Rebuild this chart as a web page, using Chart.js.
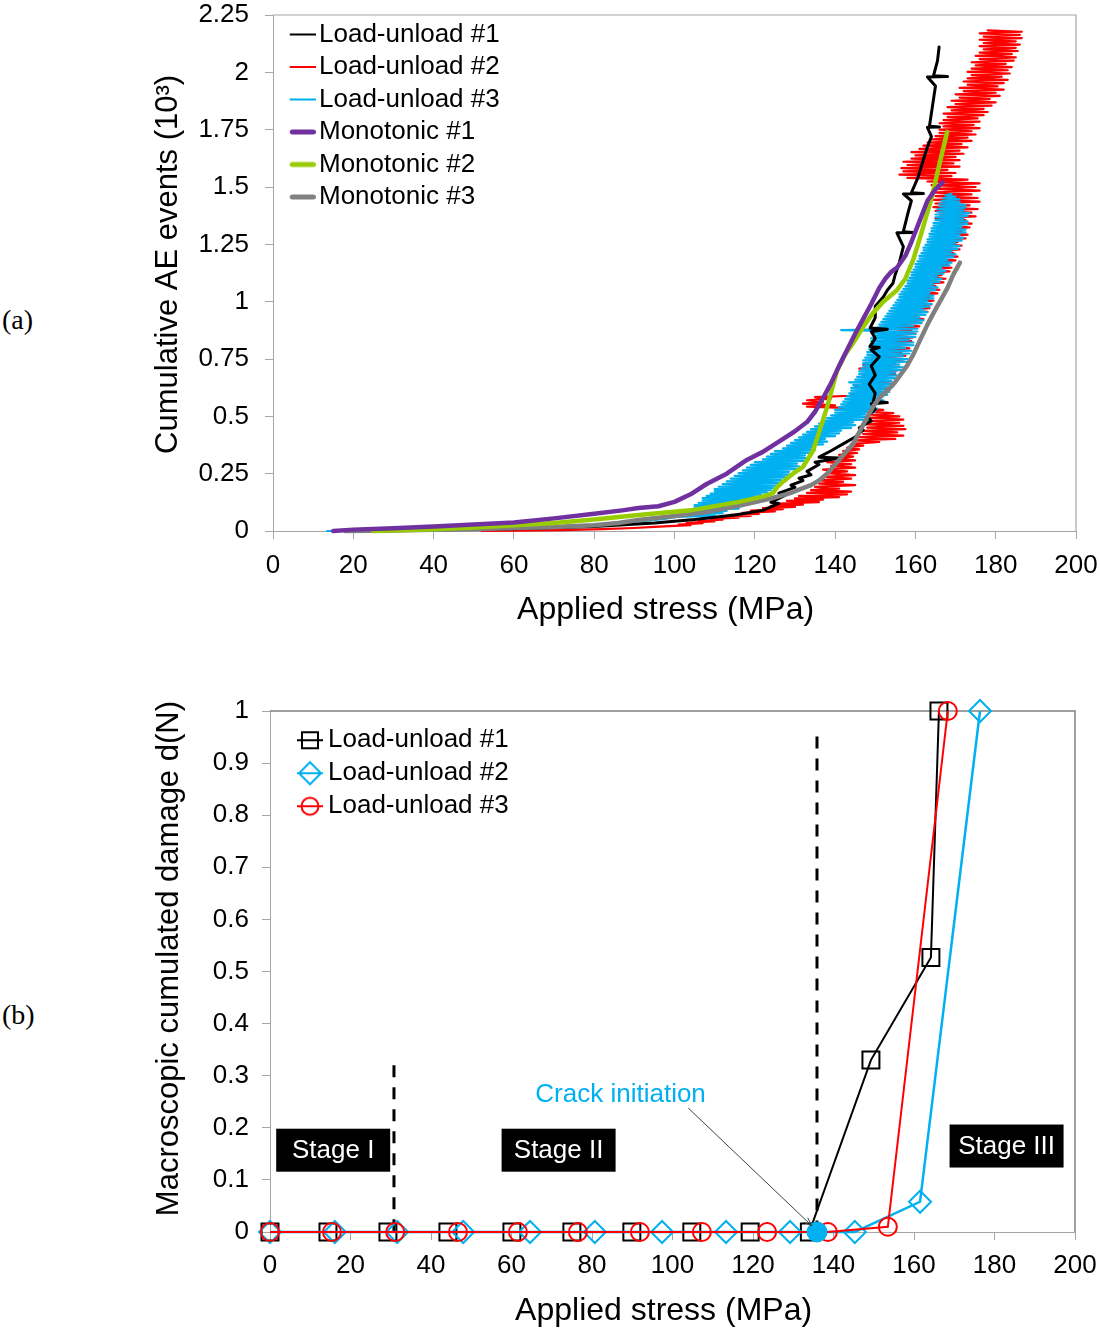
<!DOCTYPE html>
<html>
<head>
<meta charset="utf-8">
<script src="https://cdn.jsdelivr.net/npm/chart.js@4.4.1/dist/chart.umd.min.js"></script>
<style>
  html, body { margin: 0; padding: 0; background: #fff; }
  body { width: 1100px; height: 1331px; position: relative; overflow: hidden; }
  .painel { position: absolute; left: 0; }
  .letra { position: absolute; left: 2px; font: 28px/28px "Liberation Serif", "Times New Roman", serif; color: #000; }
</style>
</head>
<body>
<div class="letra" style="top:306px">(a)</div>
<div class="letra" style="top:1001px">(b)</div>
<canvas id="graficoAE" class="painel" style="top:0" width="1100" height="640"></canvas>
<canvas id="graficoDano" class="painel" style="top:650px" width="1100" height="681"></canvas>
<script>
Chart.defaults.font.family = '"Liberation Sans", Arial, sans-serif';
Chart.defaults.color = '#000';

// tick values
const stressTicks = [0, 20, 40, 60, 80, 100, 120, 140, 160, 180, 200];
const eventTicks = [0, 0.25, 0.5, 0.75, 1, 1.25, 1.5, 1.75, 2, 2.25];
const damageTicks = [0, 0.1, 0.2, 0.3, 0.4, 0.5, 0.6, 0.7, 0.8, 0.9, 1];

// (a) series names, points are [stress MPa, AE events x10^3]
const aeNames = ['Load-unload #1', 'Load-unload #2', 'Load-unload #3', 'Monotonic #1', 'Monotonic #2', 'Monotonic #3'];

const loadUnload1 = [
  [20,0],[40,0.004],[60,0.01],[80,0.02],[95,0.035],[105,0.05],[115,0.07],[122,0.09],[126,0.12],[124,0.125],
  [128,0.16],[126,0.165],[130,0.19],[129,0.2],[132,0.22],[131,0.23],[134,0.245],[133,0.26],[136,0.29],[135,0.3],
  [141,0.318],[136,0.322],[139,0.35],[142,0.38],[145,0.41],[147,0.44],[146,0.45],[149,0.48],[148,0.5],[150,0.53],
  [149,0.555],[153,0.56],[149.5,0.565],[150,0.6],[148.5,0.64],[150,0.68],[149,0.72],[151,0.76],[149,0.79],[151,0.8],
  [148.7,0.805],[150,0.84],[149,0.87],[153,0.88],[148.7,0.885],[150,0.93],[150,0.98],[152,1.02],[153,1.05],[154.4,1.08],
  [155,1.12],[156,1.17],[157,1.24],[155.4,1.3],[159.4,1.302],[157,1.305],[158.2,1.39],[159,1.44],[157,1.47],[162,1.472],
  [159,1.475],[160.6,1.54],[162,1.62],[162.9,1.67],[164,1.72],[163,1.76],[166,1.762],[163.5,1.765],[164.4,1.87],[165,1.94],
  [163,1.98],[168,1.982],[164.5,1.985],[165.5,2.05],[165.9,2.11]
];

const loadUnload2 = [
  [52,0],[62,0.002],[72,0.004],[82,0.008],[90,0.013],[95,0.018],[100,0.022],
  [104,0.026],[101,0.028],[107,0.034],[103,0.036],[110,0.042],[106,0.045],[112,0.05],[109,0.053],[116,0.058],[111,0.061],
  [119,0.066],[114,0.07],[121,0.075],[117,0.079],[125,0.085],[119,0.089],[127,0.095],[122,0.1],[130,0.105],[124,0.11],
  [132,0.115],[126,0.12],[136,0.126],[128,0.131],[137,0.137],[130,0.142],[141,0.148],[131,0.153],[143,0.16],[133,0.166],
  [144,0.172],[134,0.178],[141,0.185],[135,0.192],[145,0.2],[136,0.207],[142,0.214],[136,0.221],[144,0.228],[137,0.236],
  [145,0.244],[138,0.252],[143,0.26],[137,0.268],[145,0.276],[139,0.284],[144,0.292],[138,0.3],[145,0.308],[140,0.316],
  [144.5,0.324],[141,0.332],[145.5,0.34],[142,0.348],[146,0.356],[143,0.364],[147,0.372],[144,0.38],
  [151,0.388],[145,0.395],[155,0.402],[146,0.409],[157,0.416],[147,0.423],[155.5,0.43],[147,0.437],[157.5,0.444],[148,0.451],
  [157,0.458],[148,0.465],[156,0.472],[149,0.479],[157,0.486],[148,0.493],[156,0.5],[149,0.507],[154.5,0.514],[147,0.521],
  [152,0.528],[146,0.535],[133,0.542],[140,0.548],[132,0.555],[137,0.562],[133,0.57],[139,0.577],[135,0.584],
  [147,0.592],[144,0.598],[152,0.605],[146,0.612],[153,0.62],[145,0.628],[151.5,0.636],[147,0.644],[154,0.652],[148,0.66],
  [153,0.668],[147,0.676],[155,0.684],[149,0.692],[155.5,0.7],[146,0.708],[156,0.716],[147,0.724],[155,0.732],[150,0.74],
  [157,0.748],[151,0.756],[157.5,0.764],[152,0.772],[156.5,0.78],[151,0.788],[158.5,0.796],[153,0.804],[158,0.812],[152,0.82],
  [159,0.828],[154,0.836],[159.5,0.844],[153,0.852],[160,0.86],[155,0.868],[159,0.876],[154,0.884],[161,0.892],[155,0.9],
  [161.5,0.908],[156,0.916],[162,0.924],[157,0.932],[161,0.94],[156,0.948],[163,0.956],[158,0.964],[163.5,0.972],[157,0.98],
  [164,0.988],[158,0.996],[164.5,1.004],[159,1.012],[163.5,1.02],[159.5,1.028],[165.5,1.036],[160,1.044],[166,1.052],[160.5,1.06],
  [165,1.068],[161,1.076],[167,1.084],[161,1.092],[167.5,1.1],[162,1.108],[166.5,1.116],[162,1.124],[168.5,1.132],[163,1.14],
  [169,1.148],[163,1.156],[168,1.164],[163.5,1.172],[170,1.18],[164,1.188],[170.5,1.196],[164,1.204],[169.5,1.212],[164.5,1.22],
  [171,1.228],[165,1.236],[171.5,1.244],[165,1.252],[170.5,1.26],[165,1.268],[172.5,1.276],[166,1.284],[173,1.292],[165.5,1.3],
  [171.5,1.308],[166,1.316],[173.5,1.324],[166,1.332],[174,1.34],[166.5,1.348],[172.5,1.356],[165,1.364],[175,1.372],[166,1.38],
  [174,1.388],[165,1.396],[175.5,1.404],[164.5,1.412],[173.5,1.42],[165,1.428],[176,1.436],[164.5,1.444],[175.5,1.452],[165,1.46],
  [174,1.468],[164,1.476],[176,1.484],[165,1.492],[175,1.5],[164,1.508],[176,1.516],[163,1.524],[173,1.532],
  [158,1.54],[169,1.547],[156,1.554],[170,1.561],[157,1.568],[168,1.575],[156.5,1.582],[171,1.589],[158,1.596],[169.5,1.603],
  [157,1.61],[171,1.617],[159,1.624],[170,1.631],[160,1.638],[172,1.645],[159,1.652],[171,1.659],[161,1.666],[173,1.673],
  [162,1.68],[171.5,1.687],[163,1.694],[174,1.701],[164,1.708],[173,1.715],[165,1.722],[175,1.729],[166,1.736],[174,1.743],
  [166,1.75],[176,1.757],[167,1.764],[174.5,1.771],[166,1.778],[176,1.785],[167,1.792],[175.5,1.799],[168,1.806],[177,1.813],
  [167,1.82],[178,1.827],[169,1.834],[177,1.841],[168,1.848],[179,1.855],[170,1.862],[180,1.869],[169,1.876],[178.5,1.883],
  [171,1.89],[181,1.897],[170,1.904],[180,1.911],[172,1.918],[182,1.925],[171,1.932],[180.5,1.939],[173,1.946],[182,1.953],
  [172,1.96],[183,1.967],[173,1.974],[181.5,1.981],[174,1.988],[183.5,1.995],[173,2.002],[183,2.009],[174,2.016],[184,2.023],
  [175,2.03],[182.5,2.037],[174,2.044],[184.5,2.051],[176,2.058],[185,2.065],[175,2.072],[184,2.079],[176,2.086],[185.5,2.093],
  [177,2.1],[185,2.107],[176,2.114],[186,2.121],[177,2.128],[185,2.135],[176,2.142],[186.5,2.149],[177,2.156],[186,2.163],
  [176,2.17],[186.5,2.177],[178,2.183]
];

const loadUnload3 = [
  [13.5,0],[20,0.002],[30,0.004],[40,0.007],[50,0.01],[60,0.014],[70,0.02],[80,0.028],[90,0.04],[97,0.052],[101,0.062],
  [110,0.068],[103,0.072],[112,0.078],[104,0.083],[113,0.088],[104,0.093],[116,0.098],[105,0.103],[115,0.108],[105,0.113],
  [118,0.118],[106,0.123],[117,0.128],[107,0.133],[120,0.138],[107,0.143],[121,0.148],[108,0.153],[121.5,0.158],[109,0.163],
  [123,0.168],[110,0.173],[124,0.178],[110,0.183],[124.5,0.188],[111,0.193],[126,0.198],[112,0.204],[127,0.21],[113,0.216],
  [126.5,0.222],[114,0.228],[128.5,0.234],[115,0.24],[129,0.246],[116,0.252],[128.5,0.258],[117,0.264],[130.5,0.27],[118,0.276],
  [131,0.282],[119,0.288],[130.5,0.294],[120,0.3],[132.5,0.306],[122,0.312],[133,0.318],[123,0.324],[132.5,0.33],[124,0.336],
  [134.5,0.342],[125,0.348],[135,0.354],[127,0.36],[134.5,0.366],[128,0.372],[137,0.378],[129,0.384],[138,0.39],[130,0.396],
  [137.5,0.402],[131,0.408],[140,0.414],[132,0.42],[141,0.426],[133,0.432],[141.5,0.438],[134,0.444],[144,0.45],[135,0.456],
  [145,0.462],[136,0.468],[144.5,0.474],[137,0.48],[147,0.486],[138,0.492],[148,0.498],[139,0.504],[147.5,0.51],[140,0.516],
  [150,0.522],[140,0.528],[150.5,0.534],[141,0.54],[149.5,0.546],[141.5,0.552],[151.5,0.558],[142,0.564],[152,0.57],[142.5,0.576],
  [151,0.582],[143,0.588],[153,0.594],[143.5,0.6],[153.5,0.606],[144,0.612],[152.5,0.618],[144,0.624],[154.5,0.63],[144.5,0.636],
  [155,0.642],[143.5,0.648],[154,0.654],[145,0.66],[156,0.666],[145.5,0.672],[156,0.678],[146,0.684],[155,0.69],[146,0.696],
  [157,0.702],[146.5,0.708],[157,0.714],[147,0.72],[156,0.726],[147,0.732],[158,0.738],[147,0.744],[158,0.75],[147.5,0.756],
  [157,0.762],[148,0.768],[158.5,0.774],[148,0.78],[159,0.786],[148.5,0.792],[157.5,0.798],[148.5,0.804],[159.5,0.81],[149,0.816],
  [159.5,0.822],[149,0.828],[158.5,0.834],[149,0.84],[160,0.846],[149.5,0.852],[160,0.858],[149.5,0.864],[160.5,0.87],[141.5,0.876],
  [160.5,0.882],[150.5,0.888],[159.5,0.894],[151,0.9],[161.5,0.906],[151.5,0.912],[162,0.918],[152,0.924],[161,0.93],[152.5,0.936],
  [162.5,0.942],[153,0.948],[163,0.954],[153.5,0.96],[162,0.966],[154,0.972],[163.5,0.978],[154.5,0.984],[164,0.99],[155,0.996],
  [163,1.002],[155.5,1.008],[164.5,1.014],[156,1.02],[164.5,1.026],[156,1.032],[163.5,1.038],[156.5,1.044],[165,1.05],[157,1.056],
  [165.5,1.062],[157.5,1.068],[164.5,1.074],[158,1.08],[166,1.086],[158,1.092],[166.5,1.098],[158.5,1.104],[165.5,1.11],[159,1.116],
  [167,1.122],[159,1.128],[167.5,1.134],[159.5,1.14],[166.5,1.146],[160,1.152],[168.5,1.158],[160,1.164],[169,1.17],[160.5,1.176],
  [168,1.182],[161,1.188],[169.5,1.194],[161,1.2],[170,1.206],[161.5,1.212],[169,1.218],[162,1.224],[170.5,1.23],[162,1.236],
  [171,1.242],[162.5,1.248],[170,1.254],[163,1.26],[171.5,1.266],[163,1.272],[172,1.278],[163.5,1.284],[171,1.29],[163.5,1.296],
  [172.5,1.302],[164,1.308],[172.5,1.314],[164,1.32],[171.5,1.326],[164.5,1.332],[173,1.338],[164.5,1.344],[173,1.35],[165,1.356],
  [172,1.362],[165,1.368],[173,1.374],[165,1.38],[173.5,1.386],[165.5,1.392],[172,1.398],[165.5,1.404],[172.5,1.41],[166,1.416],
  [172.5,1.422],[166,1.428],[171,1.434],[166.5,1.44],[171,1.446],[167,1.452],[170,1.458],[167.5,1.464],[169,1.47]
];

const monotonic1 = [
  [15,0],[20,0.006],[30,0.012],[40,0.02],[50,0.028],[60,0.037],[70,0.055],[80,0.075],[87,0.09],[91,0.1],[96,0.108],
  [100,0.127],[104,0.16],[108,0.205],[113,0.25],[118,0.31],[122,0.345],[126,0.39],[130,0.435],[133,0.475],[135,0.52],
  [137,0.58],[139,0.645],[141,0.72],[143,0.79],[145,0.86],[147,0.925],[149,0.99],[151,1.06],[152.5,1.1],[154,1.13],
  [155.5,1.15],[157.5,1.2],[159,1.26],[161,1.35],[163,1.44],[165,1.49],[166.8,1.52]
];

const monotonic2 = [
  [25,0],[40,0.008],[50,0.015],[60,0.025],[70,0.035],[80,0.05],[91,0.07],[104,0.09],[116,0.127],[122,0.15],[124.5,0.165],
  [125.5,0.19],[127,0.215],[129.5,0.25],[132,0.28],[134.5,0.35],[136,0.43],[138,0.54],[140.5,0.7],[142.5,0.77],[144.5,0.82],
  [147,0.89],[149.4,0.95],[152,1.0],[155.4,1.05],[157.5,1.1],[159.4,1.18],[161,1.27],[162.5,1.36],[164,1.45],[166,1.6],[167.9,1.74]
];

const monotonic3 = [
  [18,0],[30,0.002],[40,0.005],[50,0.008],[60,0.013],[70,0.017],[80,0.025],[86,0.035],[91,0.048],[100,0.065],[108,0.083],
  [116,0.11],[124.5,0.144],[128.8,0.165],[131,0.18],[134,0.2],[136,0.22],[138,0.25],[140,0.29],[142,0.33],[144.5,0.38],
  [146,0.43],[147.5,0.48],[149.4,0.54],[151,0.58],[152.9,0.61],[155,0.65],[157.9,0.72],[159.5,0.77],[161.1,0.83],[163,0.9],
  [164.5,0.95],[166.1,1.0],[168,1.06],[169.5,1.12],[171.1,1.17]
];

// (b) macroscopic damage vs stress
const damageNames = ['Load-unload #1', 'Load-unload #2', 'Load-unload #3'];
const lu1Stress = [0, 14.4, 29.3, 44.2, 60.1, 75, 89.9, 104.8, 119.3, 134, 149.3, 164.2, 166.2];
const lu1Damage = [0, 0, 0, 0, 0, 0, 0, 0, 0, 0, 0.33, 0.527, 1];
const lu2Stress = [0, 16.1, 31.6, 48, 64.6, 80.7, 97.4, 113.3, 129.2, 145.3, 161.5, 176.4];
const lu2Damage = [0, 0, 0, 0, 0, 0, 0, 0, 0, 0, 0.058, 1];
const lu3Stress = [0, 15.4, 31.1, 46.7, 61.6, 76.5, 91.9, 107.3, 123.5, 138.6, 153.5, 168.4];
const lu3Damage = [0, 0, 0, 0, 0, 0, 0, 0, 0, 0, 0.01, 1];

const stageBoundaryStress = [30.8, 135.9];
const stageBoundaryTop = [0.32, 0.951];
const crackStress = [135.9];
const crackDamage = [0];
const crackArrowStress = [103.9, 134.6];
const crackArrowDamage = [0.238, 0.012];
const crackLabel = 'Crack initiation';
const crackLabelAt = [87.1, 0.263];
const stageNames = ['Stage I', 'Stage II', 'Stage III'];
const stageStress = [15.7, 71.7, 183.0];
const stageDamage = [0.157, 0.157, 0.165];

const pontos = lista => lista.map(([x, y]) => ({x, y}));
const juntar = (xs, ys) => xs.map((x, i) => ({x, y: ys[i]}));

const tickFonte = {size: 26};
const cinza = '#a6a6a6';

const moldura = {
  id: 'moldura',
  beforeDatasetsDraw(chart, args, opts) {
    const {ctx, chartArea: a} = chart;
    ctx.save();
    ctx.strokeStyle = opts.color;
    ctx.lineWidth = opts.width;
    ctx.beginPath();
    ctx.moveTo(a.left, a.top);
    ctx.lineTo(a.right, a.top);
    ctx.lineTo(a.right, a.bottom);
    ctx.stroke();
    ctx.restore();
  }
};

function iconeLinha(cor, largura) {
  const c = document.createElement('canvas');
  c.width = 46; c.height = 12;
  const g = c.getContext('2d');
  g.strokeStyle = cor;
  g.lineWidth = largura;
  g.lineCap = largura > 3 ? 'round' : 'butt';
  const m = largura > 3 ? largura / 2 : 0;
  g.beginPath();
  g.moveTo(20 + m, 6);
  g.lineTo(46 - m, 6);
  g.stroke();
  return c;
}

function iconeMarcador(cor, forma) {
  const c = document.createElement('canvas');
  c.width = 54; c.height = 26;
  const g = c.getContext('2d');
  g.strokeStyle = cor;
  g.lineWidth = 2;
  g.beginPath();
  g.moveTo(28, 13);
  g.lineTo(54, 13);
  g.stroke();
  g.beginPath();
  if (forma === 'rect') {
    g.rect(33, 5, 16, 16);
  } else if (forma === 'rectRot') {
    g.moveTo(41, 2); g.lineTo(52, 13); g.lineTo(41, 24); g.lineTo(30, 13); g.closePath();
  } else {
    g.arc(41, 13, 8.5, 0, Math.PI * 2);
  }
  g.stroke();
  return c;
}

function eixoX(altura, padTick, padBaixo) {
  return {
    type: 'linear', min: 0, max: 200,
    afterBuildTicks: s => { s.ticks = stressTicks.map(v => ({value: v})); },
    afterFit: s => { s.height = altura; s.paddingLeft = 0; s.paddingRight = 0; },
    ticks: {font: tickFonte, color: '#000', padding: padTick, maxRotation: 0, autoSkip: false, callback: v => String(v)},
    grid: {drawOnChartArea: false, tickLength: 8, color: cinza, tickColor: cinza},
    border: {color: cinza, width: 1},
    title: {display: true, text: 'Applied stress (MPa)  ', font: {size: 32}, color: '#000', padding: {top: 0, bottom: padBaixo}}
  };
}

function eixoY(valores, largura, padTick, titulo, padTitulo) {
  return {
    type: 'linear', min: valores[0], max: valores[valores.length - 1],
    afterBuildTicks: s => { s.ticks = valores.map(v => ({value: v})); },
    afterFit: s => { s.width = largura; s.paddingTop = 0; s.paddingBottom = 0; },
    ticks: {font: tickFonte, color: '#000', padding: padTick, autoSkip: false, callback: v => String(v)},
    grid: {drawOnChartArea: false, tickLength: 8, color: cinza, tickColor: cinza},
    border: {color: cinza, width: 1},
    title: {display: true, text: titulo, font: {size: 31}, color: '#000', padding: {top: padTitulo, bottom: 0}}
  };
}

// ---------- (a) ----------
const coresAE = ['#000000', '#ff0000', '#00b0f0', '#7030a0', '#99cc00', '#808080'];
const dadosAE = [loadUnload1, loadUnload2, loadUnload3, monotonic1, monotonic2, monotonic3];
const largurasAE = [3, 2.2, 2.2, 4.5, 4.5, 4.5];
const ordemAE = [4, 6, 5, 1, 2, 3];

const graficoAE = new Chart(document.getElementById('graficoAE'), {
  type: 'scatter',
  data: {
    datasets: dadosAE.map((d, i) => ({
      label: aeNames[i],
      data: pontos(d),
      showLine: true,
      borderColor: coresAE[i],
      backgroundColor: coresAE[i],
      borderWidth: largurasAE[i],
      borderCapStyle: 'round',
      borderJoinStyle: 'round',
      pointRadius: 0,
      tension: 0,
      clip: false,
      order: ordemAE[i]
    }))
  },
  options: {
    responsive: false,
    devicePixelRatio: 1,
    animation: false,
    events: [],
    layout: {padding: {left: 140, right: 24, top: 15, bottom: 0}},
    scales: {
      x: eixoX(109, 11, 10.4),
      y: eixoY(eventTicks, 133, 16, '  Cumulative AE events (10³)', 10)
    },
    plugins: {
      tooltip: {enabled: false},
      moldura: {color: cinza, width: 1.2},
      legend: {
        position: 'chartArea',
        align: 'start',
        title: {display: true, text: ' ', font: {size: 1}, padding: {top: 7, bottom: 6.8}},
        labels: {
          font: {size: 26},
          color: '#000',
          padding: 6.5,
          usePointStyle: true,
          pointStyleWidth: 26.5,
          boxHeight: 26,
          generateLabels: chart => chart.data.datasets.map((ds, i) => ({
            text: ds.label,
            datasetIndex: i,
            pointStyle: iconeLinha(coresAE[i], i < 3 ? 2 : 5),
            fillStyle: 'rgba(0,0,0,0)',
            strokeStyle: 'rgba(0,0,0,0)',
            lineWidth: 0,
            hidden: false,
            fontColor: '#000'
          })),
          sort: (a, b) => a.datasetIndex - b.datasetIndex
        }
      }
    }
  },
  plugins: [moldura]
});

// ---------- (b) ----------
const coresDano = ['#000000', '#00b0f0', '#ff0000'];
const formasDano = ['rect', 'rectRot', 'circle'];
const raiosDano = [12, 11, 9];
const largurasDano = [2, 2.5, 2];
const seriesDano = [juntar(lu1Stress, lu1Damage), juntar(lu2Stress, lu2Damage), juntar(lu3Stress, lu3Damage)];

const rotulos = {
  id: 'rotulos',
  afterDatasetsDraw(chart) {
    const {ctx, scales: {x, y}} = chart;
    ctx.save();
    // arrow head at the end of the crack pointer
    const seta = chart.data.datasets.findIndex(d => d.label === 'seta');
    const pts = chart.getDatasetMeta(seta).data;
    if (pts.length > 1) {
      const p0 = pts[0], p1 = pts[1];
      const ang = Math.atan2(p1.y - p0.y, p1.x - p0.x);
      ctx.strokeStyle = '#404040';
      ctx.lineWidth = 1;
      ctx.beginPath();
      ctx.moveTo(p1.x - 9 * Math.cos(ang - 0.35), p1.y - 9 * Math.sin(ang - 0.35));
      ctx.lineTo(p1.x, p1.y);
      ctx.lineTo(p1.x - 9 * Math.cos(ang + 0.35), p1.y - 9 * Math.sin(ang + 0.35));
      ctx.stroke();
    }

    ctx.font = '26px "Liberation Sans", Arial, sans-serif';
    ctx.textAlign = 'center';
    ctx.textBaseline = 'middle';
    stageNames.forEach((nome, i) => {
      const px = x.getPixelForValue(stageStress[i]);
      const py = y.getPixelForValue(stageDamage[i]);
      ctx.fillStyle = '#000';
      ctx.fillRect(px - 57, py - 21.5, 114, 43);
      ctx.fillStyle = '#fff';
      ctx.fillText(nome, px, py + 1);
    });
    ctx.fillStyle = '#00b0f0';
    ctx.fillText(crackLabel, x.getPixelForValue(crackLabelAt[0]), y.getPixelForValue(crackLabelAt[1]));
    ctx.restore();
  }
};

const datasetsDano = seriesDano.map((d, i) => ({
  label: damageNames[i],
  data: d,
  showLine: true,
  borderColor: coresDano[i],
  borderWidth: largurasDano[i],
  pointStyle: formasDano[i],
  pointRadius: raiosDano[i],
  pointBorderWidth: 2,
  pointBorderColor: coresDano[i],
  pointBackgroundColor: 'rgba(0,0,0,0)',
  tension: 0,
  clip: false,
  order: 5 - i
}));

stageBoundaryStress.forEach((s, i) => {
  datasetsDano.push({
    label: 'limite' + i,
    data: [{x: s, y: stageBoundaryTop[i]}, {x: s, y: 0}],
    showLine: true,
    borderColor: '#000',
    borderWidth: 3,
    borderDash: [12, 10],
    pointRadius: 0,
    clip: false,
    order: 8
  });
});

datasetsDano.push({
  label: 'crack',
  data: juntar(crackStress, crackDamage),
  pointRadius: 10,
  pointBackgroundColor: '#00b0f0',
  pointBorderColor: '#00b0f0',
  pointBorderWidth: 1,
  clip: false,
  order: 2
});

datasetsDano.push({
  label: 'seta',
  data: juntar(crackArrowStress, crackArrowDamage),
  showLine: true,
  borderColor: '#404040',
  borderWidth: 1,
  pointRadius: 0,
  clip: false,
  order: 1
});

const graficoDano = new Chart(document.getElementById('graficoDano'), {
  type: 'scatter',
  data: {datasets: datasetsDano},
  options: {
    responsive: false,
    devicePixelRatio: 1,
    animation: false,
    events: [],
    layout: {padding: {left: 140, right: 25, top: 61, bottom: 0}},
    scales: {
      x: eixoX(99, 10, 0.4),
      y: eixoY(damageTicks, 130, 13, '   Macroscopic cumulated damage d(N)', 11)
    },
    plugins: {
      tooltip: {enabled: false},
      moldura: {color: '#808080', width: 1.5},
      legend: {
        position: 'chartArea',
        align: 'start',
        title: {display: true, text: ' ', font: {size: 1}, padding: {top: 34.5, bottom: 34.5}},
        labels: {
          font: {size: 26},
          color: '#000',
          padding: 7,
          usePointStyle: true,
          pointStyleWidth: 38,
          boxHeight: 26,
          generateLabels: () => damageNames.map((nome, i) => ({
            text: nome,
            datasetIndex: i,
            pointStyle: iconeMarcador(coresDano[i], formasDano[i]),
            fillStyle: 'rgba(0,0,0,0)',
            strokeStyle: 'rgba(0,0,0,0)',
            lineWidth: 0,
            hidden: false,
            fontColor: '#000'
          })),
          sort: (a, b) => a.datasetIndex - b.datasetIndex
        }
      }
    }
  },
  plugins: [moldura, rotulos]
});
</script>
</body>
</html>
